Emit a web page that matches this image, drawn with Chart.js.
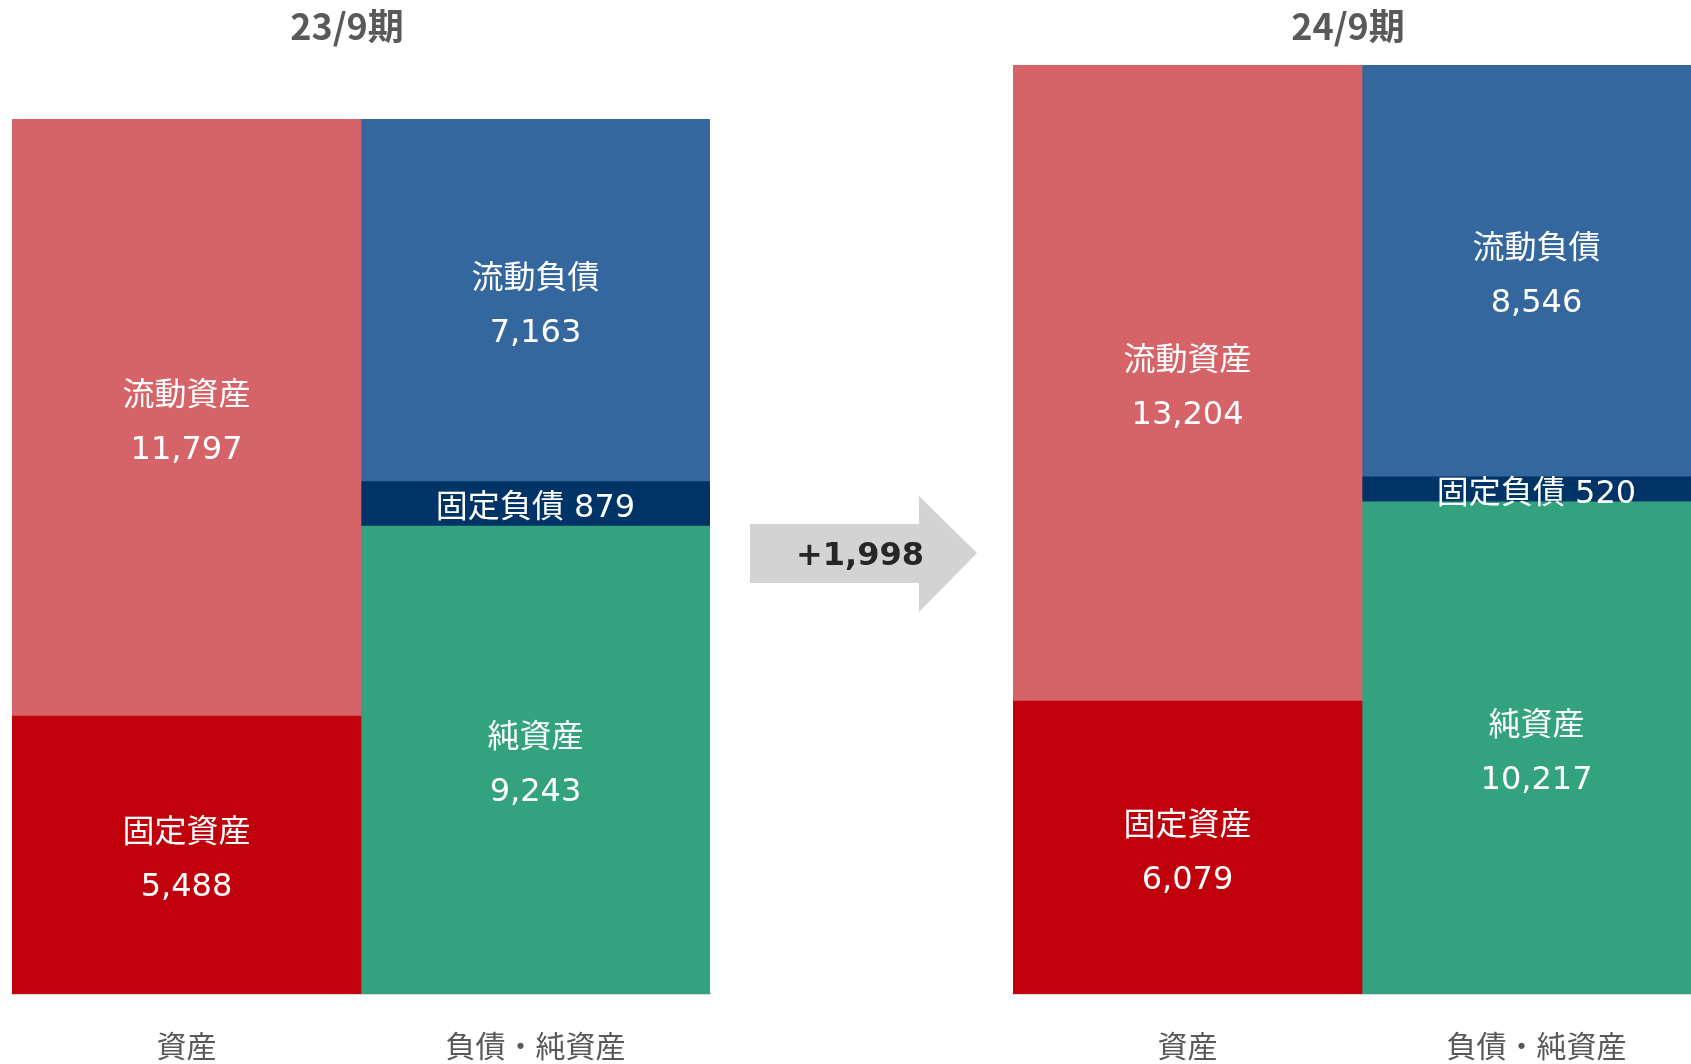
<!DOCTYPE html>
<html lang="ja">
<head>
<meta charset="utf-8">
<script src="https://cdn.jsdelivr.net/npm/chart.js@4"></script>
<style>
  html, body { margin: 0; padding: 0; background: #ffffff; overflow: hidden; width: 1691px; height: 1064px; }
  #wrap { position: relative; width: 1691px; height: 1064px; overflow: hidden; }
  canvas { position: absolute; top: 0; }
  .title { position: absolute; top: 0; height: 48px; line-height: 48px; width: 300px; text-align: center;
           font-family: "Noto Sans CJK JP", sans-serif; font-weight: bold; font-size: 36px; color: #595959; }
  #arrow { position: absolute; left: 0; top: 0; }
  #change { position: absolute; left: 760px; top: 534px; width: 200px; height: 40px; line-height: 40px; text-align: center;
            font-family: "DejaVu Sans", sans-serif; font-weight: bold; font-size: 32px; color: #262626; }
</style>
</head>
<body>
<div id="wrap">
  <canvas id="c1" width="720" height="1064" style="left:0px"></canvas>
  <canvas id="c2" width="720" height="1064" style="left:1000px"></canvas>
  <div class="title" id="t1" style="left:197px"></div>
  <div class="title" id="t2" style="left:1198px"></div>
  <svg id="arrow" width="1691" height="1064">
    <polygon points="750,524 919,524 919,496 977,553 919,612 919,583 750,583" fill="#d3d3d3"></polygon>
  </svg>
  <div id="change"></div>
</div>
<script>
// ---- data ----
const periods = ['23/9期', '24/9期'];
const categories = ['資産', '負債・純資産'];
const segmentNames = ['固定資産', '流動資産', '純資産', '固定負債', '流動負債'];
const segmentSide = [0, 0, 1, 1, 1];
const values2309 = [5488, 11797, 9243, 879, 7163];
const values2409 = [6079, 13204, 10217, 520, 8546];
const changeLabel = '+1,998';
const segmentColors = ['#c0000b', '#d56367', '#33a27f', '#003366', '#34679d'];
const singleLineSegments = ['固定負債'];

document.getElementById('t1').textContent = periods[0];
document.getElementById('t2').textContent = periods[1];
document.getElementById('change').textContent = changeLabel;

const fmt = v => v.toLocaleString('en-US');
const labelFont = '32px "DejaVu Sans", "Noto Sans CJK JP", sans-serif';

const segLabelPlugin = {
  id: 'segLabels',
  afterDatasetsDraw(chart) {
    const ctx = chart.ctx;
    ctx.save();
    ctx.fillStyle = '#ffffff';
    ctx.font = labelFont;
    ctx.textAlign = 'center';
    ctx.textBaseline = 'middle';
    chart.data.datasets.forEach((ds, di) => {
      const meta = chart.getDatasetMeta(di);
      meta.data.forEach((el, i) => {
        const v = ds.data[i];
        if (v == null) return;
        const cy = (el.y + el.base) / 2;
        if (singleLineSegments.includes(ds.label)) {
          ctx.fillText(ds.label + ' ' + fmt(v), el.x, cy + 5);
        } else {
          ctx.fillText(ds.label, el.x, cy - 21);
          ctx.fillText(fmt(v), el.x, cy + 33);
        }
      });
    });
    ctx.restore();
  }
};

function makeChart(id, values, pad) {
  const total = values.reduce((s, v, i) => s + (segmentSide[i] === 0 ? v : 0), 0);
  const datasets = segmentNames.map((name, i) => ({
    label: name,
    data: categories.map((c, j) => (j === segmentSide[i] ? values[i] : null)),
    backgroundColor: segmentColors[i],
    borderWidth: 0,
    barPercentage: 1,
    categoryPercentage: 1
  }));
  return new Chart(document.getElementById(id), {
    type: 'bar',
    data: { labels: categories, datasets },
    options: {
      responsive: false,
      animation: false,
      layout: { padding: pad },
      plugins: { legend: { display: false }, tooltip: { enabled: false }, title: { display: false } },
      scales: {
        x: {
          stacked: true,
          grid: { display: false, drawTicks: false },
          border: { display: true, color: '#d9d9d9', width: 2 },
          ticks: {
            color: '#595959',
            padding: 37,
            font: { family: '"DejaVu Sans", "Noto Sans CJK JP", sans-serif', size: 30 }
          },
          afterFit(s) { s.height = 70; }
        },
        y: { stacked: true, display: false, min: 0, max: total }
      }
    },
    plugins: [segLabelPlugin]
  });
}

makeChart('c1', values2309, { left: 12, right: 10, top: 119, bottom: 0 });
makeChart('c2', values2409, { left: 13, right: 9, top: 65, bottom: 0 });
</script>
</body>
</html>
